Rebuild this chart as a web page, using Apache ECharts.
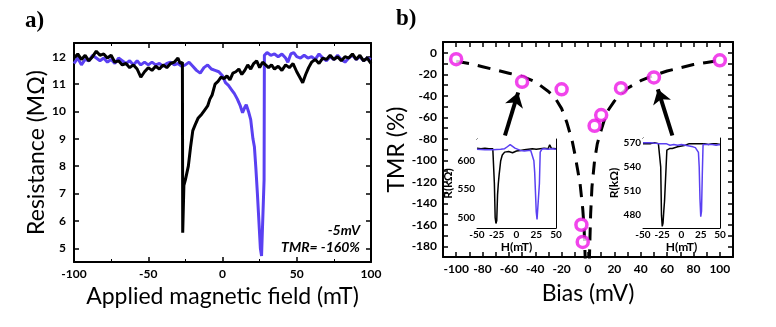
<!DOCTYPE html>
<html lang="en">
<head>
  <meta charset="UTF-8">
  <title>TMR</title>
  <script src="https://cdn.jsdelivr.net/npm/echarts@6.0.0/dist/echarts.min.js"></script>
  <style>
    html, body { margin: 0; padding: 0; background: #fff; }
  </style>
</head>
<body>
  <div id="app" style="width: 776px; height: 327px;"></div>
  <script>
    // panel a) resistance vs field, -5 mV
    var fieldBlack = [-100, -97.5, -95, -92.5, -90, -87.5, -85, -82.5, -80, -77.5, -75, -72.5, -70, -67.5, -65, -62.5, -60, -57.5, -55, -52.5,
      -50, -47.5, -45, -42.5, -40, -37.5, -35, -32.5, -30, -28.5, -27, -26.8, -26, -25, -23, -21.5, -20, -18.5, -16.5, -14,
      -12, -10, -8.5, -7, -5, -3, -1, 1, 3, 5, 7, 9, 11, 13, 15, 17, 19, 21, 23, 25,
      27, 29, 31, 33, 35, 37.5, 40, 42.5, 45, 47.5, 50, 52.5, 54, 56, 58, 60, 62.5, 65, 67.5, 70,
      72.5, 75, 77.5, 80, 82.5, 85, 87.5, 90, 92.5, 95, 97.5, 100]
    var resBlack = [11.95, 12.1, 11.9, 12.05, 11.85, 12.0, 12.2, 12.05, 12.1, 11.95, 12.05, 11.8, 11.85, 11.7, 11.75, 11.6, 11.7, 11.55, 11.25, 11.45,
      11.6, 11.5, 11.65, 11.55, 11.7, 11.6, 11.75, 11.8, 11.95, 11.75, 11.8, 5.57, 7.3, 7.5, 8.0, 8.7, 9.3, 9.5, 9.75, 9.9,
      10.05, 10.2, 10.45, 10.6, 11.0, 11.1, 11.25, 11.2, 11.3, 11.15, 11.4, 11.45, 11.55, 11.35, 11.5, 11.7, 11.55, 11.75, 11.85, 11.6,
      11.8, 11.7, 11.6, 11.7, 11.55, 11.65, 11.5, 11.7, 11.6, 11.75, 11.45, 11.2, 11.05, 11.35, 11.6, 11.8, 11.9, 11.75, 11.95, 11.9,
      12.05, 11.9, 12.0, 11.85, 12.0, 11.95, 12.1, 11.9, 12.05, 11.85, 11.95, 11.75]
    var fieldBlue = [-100, -97.5, -95, -92.5, -90, -87.5, -85, -82.5, -80, -77.5, -75, -72.5, -70, -67.5, -65, -62.5, -60, -57.5, -55, -52.5,
      -50, -47.5, -45, -42.5, -40, -37.5, -35, -32.5, -30, -27.5, -25, -22.5, -20, -17.5, -15, -12.5, -10, -7.5, -5, -2.5,
      0, 2, 4, 6, 8, 10, 12, 13.5, 15, 16, 17.5, 19, 20.5, 21.5, 22.5, 23.5, 24.5, 25.5, 26.3, 27.3,
      28, 28.2, 30, 32.5, 35, 37.5, 40, 42.5, 44, 46, 48, 50, 52.5, 55, 57.5, 60, 62.5, 65, 67.5, 70,
      72.5, 75, 77.5, 80, 82.5, 85, 87.5, 90, 92.5, 95, 97.5, 100]
    var resBlue = [11.75, 11.95, 11.7, 11.9, 11.85, 12.05, 11.95, 11.85, 11.95, 11.8, 11.9, 11.75, 11.95, 11.85, 11.75, 11.85, 11.7, 11.85, 11.7, 11.8,
      11.7, 11.8, 11.7, 11.75, 11.65, 11.75, 11.8, 11.7, 11.75, 11.65, 11.7, 11.8, 11.65, 11.5, 11.4, 11.6, 11.7, 11.55, 11.5, 11.45,
      11.3, 11.05, 10.95, 10.8, 10.65, 10.45, 10.2, 9.95, 10.15, 10.25, 10.0, 9.7, 9.0, 8.7, 7.9, 7.0, 6.0, 5.0, 4.72, 4.72,
      7.5, 12.05, 12.15, 12.05, 12.1, 12.0, 12.1, 11.95, 11.8, 12.1, 12.15, 12.0, 11.95, 12.05, 11.95, 12.0, 11.9, 12.1, 11.95, 11.85,
      12.0, 11.9, 12.05, 11.9, 11.8, 11.95, 12.05, 11.9, 12.0, 11.85, 11.95, 11.9]

    // panel b) TMR vs bias
    var biasPts = [-100, -50, -20, -5, -4, 5, 10, 25, 50, 100]
    var tmrPts = [-6, -27, -34, -160, -176, -68, -58, -33, -23, -7]
    var fitBiasL = [-100, -90, -80, -70, -60, -50, -40, -30, -25, -20, -16, -12, -10, -8, -6, -4, -3, -2]
    var fitTmrL = [-8, -10, -13, -16, -19, -22, -27, -36, -42, -52, -65, -82, -94, -108, -122, -145, -162, -195]
    var fitBiasR = [1, 1.5, 2, 3, 5, 7, 9, 12, 15, 20, 25, 30, 40, 50, 60, 70, 80, 90, 100]
    var fitTmrR = [-195, -172, -150, -125, -100, -85, -76, -64, -54, -45, -38, -33, -26, -21, -17, -14, -11, -9, -7]

    // insets: R(kOhm) vs H(mT)
    var inLhBlack = [-50, -45, -40, -35, -30, -29, -28, -27, -26, -25, -24, -23, -22, -20, -18, -15, -10, -5, 0, 5, 10, 15, 20, 25, 30, 35, 40, 42, 44, 50]
    var inLrBlack = [622, 621, 622, 621, 621, 620, 560, 500, 490, 495, 540, 560, 575, 600, 610, 615, 616, 614, 617, 618, 619, 620, 621, 620, 621, 622, 621, 628, 622, 621]
    var inLhBlue = [-50, -40, -30, -20, -15, -12, -10, -8, -5, -2, 0, 5, 10, 15, 18, 20, 22, 23, 24, 25, 26, 27, 28, 29, 30, 32, 35, 40, 45, 50]
    var inLrBlue = [620, 619, 619, 620, 621, 624, 627, 628, 625, 622, 621, 618, 617, 618, 618, 615, 600, 580, 545, 510, 497, 494, 500, 560, 615, 620, 621, 620, 621, 620]
    var inRhBlack = [-50, -40, -35, -30, -28, -27, -26, -25, -24, -23, -22, -21, -20, -19, -18, -15, -12, -10, -5, 0, 5, 10, 15, 20, 25, 30, 35, 40, 45, 50]
    var inRrBlack = [569, 569, 570, 569, 569, 540, 480, 466, 470, 485, 498, 500, 540, 561, 562, 563, 563, 564, 565, 566, 567, 569, 569, 569, 569, 569, 568, 569, 569, 568]
    var inRhBlue = [-50, -40, -30, -20, -15, -10, -5, 0, 5, 10, 15, 18, 20, 22, 23, 24, 25, 26, 27, 28, 30, 35, 40, 45, 50]
    var inRrBlue = [570, 570, 569, 569, 567, 568, 567, 568, 567, 566, 565, 564, 562, 558, 540, 500, 478, 485, 530, 568, 569, 568, 568, 567, 568]

    var resTicks = [5, 6, 7, 8, 9, 10, 11, 12]
    var inLTicks = [500, 550, 600]
    var inRTicks = [480, 510, 540, 570]

    function zip(a, b) {
      return a.map(function (v, i) { return [v, b[i]] })
    }

    var tickFont = 'Lato, Roboto, sans-serif'
    var titleFont = 'Lato, sans-serif'
    var blue = '#5a40f2'
    var pink = '#ee16e6'

    function everyTwenty(v) { return v % 20 === 0 ? v : '' }

    function mainX(grid, o, top) {
      return Object.assign({
        gridIndex: grid, type: 'value', position: top ? 'top' : 'bottom',
        axisLine: { onZero: false, lineStyle: { color: '#000', width: 2 } },
        axisTick: { show: true, inside: true, length: 5, lineStyle: { color: '#000', width: 1.5 } },
        axisLabel: { show: !top, color: '#000', fontFamily: tickFont, fontWeight: 'bold', fontSize: 12, margin: 6 },
        splitLine: { show: false }
      }, o)
    }
    function mainY(grid, o, right) {
      return Object.assign({
        gridIndex: grid, type: 'value', position: right ? 'right' : 'left',
        axisLine: { show: true, onZero: false, lineStyle: { color: '#000', width: 2 } },
        axisTick: { show: true, inside: true, length: 5, lineStyle: { color: '#000', width: 1.5 } },
        axisLabel: { show: !right, color: '#000', fontFamily: tickFont, fontWeight: 'bold', fontSize: 12, margin: 6 },
        splitLine: { show: false }
      }, o)
    }
    function insetX(grid, o, top) {
      return Object.assign({
        gridIndex: grid, type: 'value', position: top ? 'top' : 'bottom',
        min: -50, max: 50, interval: 25,
        axisLine: { onZero: false, lineStyle: { color: '#000', width: 1 } },
        axisTick: { show: true, inside: true, length: 3, lineStyle: { color: '#000', width: 1 } },
        axisLabel: { show: !top, color: '#000', fontFamily: tickFont, fontWeight: 'bold', fontSize: 10, margin: 2 },
        splitLine: { show: false }
      }, o)
    }
    function insetY(grid, o, right) {
      return Object.assign({
        gridIndex: grid, type: 'value', position: right ? 'right' : 'left',
        axisLine: { show: true, onZero: false, lineStyle: { color: '#000', width: 1 } },
        axisTick: { show: true, inside: true, length: 3, lineStyle: { color: '#000', width: 1 } },
        axisLabel: { show: !right, color: '#000', fontFamily: tickFont, fontWeight: 'bold', fontSize: 10, margin: 2 },
        splitLine: { show: false }
      }, o)
    }

    var nameStyle = { color: '#000', fontFamily: titleFont, fontSize: 23 }
    var insetName = { color: '#000', fontFamily: tickFont, fontWeight: 'bold', fontSize: 12 }

    var option = {
      animation: false,
      backgroundColor: '#fff',
      grid: [
        { left: 74, top: 43, width: 297, height: 219, containLabel: false, outerBoundsMode: 'none' },
        { left: 443, top: 42, width: 290, height: 215, containLabel: false, outerBoundsMode: 'none' },
        { left: 477, top: 139, width: 79, height: 89, containLabel: false, outerBoundsMode: 'none', show: true, backgroundColor: '#fff', borderWidth: 0, z: 5 },
        { left: 643, top: 138, width: 77, height: 90, containLabel: false, outerBoundsMode: 'none', show: true, backgroundColor: '#fff', borderWidth: 0, z: 5 }
      ],
      xAxis: [
        mainX(0, { min: -100, max: 100, interval: 50, minorTick: { show: true, splitNumber: 2, length: 3, lineStyle: { color: '#000' } },
          name: 'Applied magnetic field (mT)', nameLocation: 'middle', nameGap: 22, nameTextStyle: nameStyle }),
        mainX(0, { min: -100, max: 100, interval: 50, minorTick: { show: true, splitNumber: 2, length: 3, lineStyle: { color: '#000' } } }, true),
        mainX(1, { min: -110, max: 110, interval: 10, axisLabel: { formatter: everyTwenty, color: '#000', fontFamily: tickFont, fontWeight: 'bold', fontSize: 12, margin: 6 },
          name: 'Bias (mV)', nameLocation: 'middle', nameGap: 25, nameTextStyle: nameStyle }),
        mainX(1, { min: -110, max: 110, interval: 10 }, true),
        insetX(2, { name: 'H(mT)', nameLocation: 'middle', nameGap: 9, nameTextStyle: insetName }),
        insetX(2, {}, true),
        insetX(3, { name: 'H(mT)', nameLocation: 'middle', nameGap: 9, nameTextStyle: insetName }),
        insetX(3, {}, true)
      ],
      yAxis: [
        mainY(0, { min: 4.5, max: 12.5,
          axisTick: { show: true, inside: true, length: 5, customValues: resTicks, lineStyle: { color: '#000', width: 1.5 } },
          axisLabel: { customValues: resTicks, color: '#000', fontFamily: tickFont, fontWeight: 'bold', fontSize: 12, margin: 8 },
          name: 'Resistance (MΩ)', nameLocation: 'middle', nameGap: 25, nameTextStyle: nameStyle }),
        mainY(0, { min: 4.5, max: 12.5,
          axisTick: { show: true, inside: true, length: 5, customValues: resTicks, lineStyle: { color: '#000', width: 1.5 } } }, true),
        mainY(1, { min: -190, max: 10, interval: 10, axisLabel: { formatter: everyTwenty, color: '#000', fontFamily: tickFont, fontWeight: 'bold', fontSize: 12, margin: 6 },
          name: 'TMR (%)', nameLocation: 'middle', nameGap: 34, nameTextStyle: nameStyle }),
        mainY(1, { min: -190, max: 10, interval: 10 }, true),
        insetY(2, { min: 482, max: 638,
          axisTick: { show: true, inside: true, length: 3, customValues: inLTicks, lineStyle: { color: '#000', width: 1 } },
          axisLabel: { customValues: inLTicks, color: '#000', fontFamily: tickFont, fontWeight: 'bold', fontSize: 10, margin: 2 },
          name: 'R(kΩ)', nameLocation: 'middle', nameGap: 18, nameTextStyle: insetName }),
        insetY(2, { min: 482, max: 638, axisTick: { show: true, inside: true, length: 3, customValues: inLTicks, lineStyle: { color: '#000' } } }, true),
        insetY(3, { min: 464, max: 576,
          axisTick: { show: true, inside: true, length: 3, customValues: inRTicks, lineStyle: { color: '#000', width: 1 } },
          axisLabel: { customValues: inRTicks, color: '#000', fontFamily: tickFont, fontWeight: 'bold', fontSize: 10, margin: 2 },
          name: 'R(kΩ)', nameLocation: 'middle', nameGap: 18, nameTextStyle: insetName }),
        insetY(3, { min: 464, max: 576, axisTick: { show: true, inside: true, length: 3, customValues: inRTicks, lineStyle: { color: '#000' } } }, true)
      ],
      series: [
        { type: 'line', xAxisIndex: 0, yAxisIndex: 0, data: zip(fieldBlack, resBlack), showSymbol: false, lineStyle: { color: '#000', width: 3 }, z: 3 },
        { type: 'line', xAxisIndex: 0, yAxisIndex: 0, data: zip(fieldBlue, resBlue), showSymbol: false, lineStyle: { color: blue, width: 3 }, z: 2 },
        { type: 'line', xAxisIndex: 2, yAxisIndex: 2, data: zip(fitBiasL, fitTmrL), showSymbol: false, clip: true,
          lineStyle: { color: '#000', width: 3, type: [13, 9] },
          markLine: {
            silent: true, symbol: ['none', 'arrow'], symbolSize: [14, 14], label: { show: false },
            lineStyle: { color: '#000', width: 4, type: 'solid' },
            data: [
              [{ coord: [-63, -77] }, { coord: [-53, -37] }],
              [{ coord: [64, -77] }, { coord: [53, -34] }]
            ]
          } },
        { type: 'line', xAxisIndex: 2, yAxisIndex: 2, data: zip(fitBiasR, fitTmrR), showSymbol: false, clip: true,
          lineStyle: { color: '#000', width: 3, type: [13, 9] } },
        { type: 'scatter', xAxisIndex: 2, yAxisIndex: 2, data: zip(biasPts, tmrPts), symbol: 'circle', symbolSize: 11,
          itemStyle: { color: '#fff', borderColor: pink, borderWidth: 3.5 }, z: 10 },
        { type: 'line', xAxisIndex: 4, yAxisIndex: 4, data: zip(inLhBlack, inLrBlack), showSymbol: false, lineStyle: { color: '#000', width: 1.5 }, z: 6 },
        { type: 'line', xAxisIndex: 4, yAxisIndex: 4, data: zip(inLhBlue, inLrBlue), showSymbol: false, lineStyle: { color: blue, width: 1.5 }, z: 6 },
        { type: 'line', xAxisIndex: 6, yAxisIndex: 6, data: zip(inRhBlack, inRrBlack), showSymbol: false, lineStyle: { color: '#000', width: 1.5 }, z: 6 },
        { type: 'line', xAxisIndex: 6, yAxisIndex: 6, data: zip(inRhBlue, inRrBlue), showSymbol: false, lineStyle: { color: blue, width: 1.5 }, z: 6 }
      ],
      graphic: [
        { type: 'text', left: 25, top: 10, style: { text: 'a)', font: 'bold 23px "Liberation Serif", serif', fill: '#000' } },
        { type: 'text', left: 396, top: 8, style: { text: 'b)', font: 'bold 23px "Liberation Serif", serif', fill: '#000' } },
        { type: 'text', right: 416, top: 223, style: { text: '-5mV', font: 'italic bold 14px Lato, sans-serif', fill: '#000', align: 'right' } },
        { type: 'text', right: 416, top: 240, style: { text: 'TMR= -160%', font: 'italic bold 14px Lato, sans-serif', fill: '#000', align: 'right' } }
      ]
    }

    var chart = echarts.init(document.getElementById('app'), null, { renderer: 'canvas' })
    chart.setOption(option)
  </script>
</body>
</html>
